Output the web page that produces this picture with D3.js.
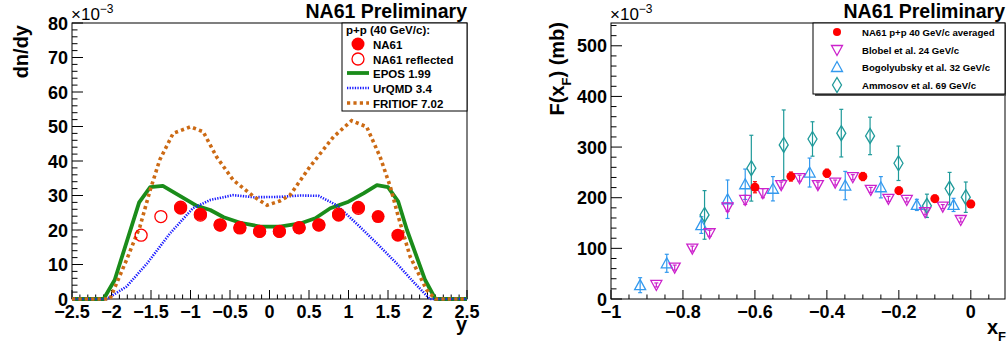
<!DOCTYPE html>
<html>
<head>
<meta charset="utf-8">
<script src="https://cdn.jsdelivr.net/npm/d3@7"></script>
<style>
html,body{margin:0;padding:0;background:#fff;}
svg{display:block;font-family:"Liberation Sans",Arial,Helvetica,sans-serif;}
</style>
</head>
<body>
<svg id="c" width="1007" height="345"></svg>
<script>
// ---------- LEFT PANEL DATA (dn/dy x 10^-3 vs y) ----------
const na61Y = [-1.125,-0.875,-0.625,-0.375,-0.125,0.125,0.375,0.625,0.875,1.125,1.375,1.625];
const na61V = [26.3,24.6,21.4,20.7,19.6,19.6,20.6,21.5,24.3,26.6,23.9,18.5];
const reflY = [-1.625,-1.375,-1.125,-0.875,-0.625,-0.375,-0.125,0.125,0.375,0.625,0.875,1.125];
const reflV = [18.5,23.9,26.6,24.3,21.5,20.6,19.6,19.6,20.7,21.4,24.6,26.3];
const eposY = [-2.5,-2.1,-1.96,-1.65,-1.51,-1.35,-0.92,-0.75,-0.58,-0.37,-0.12,0.13,0.39,0.58,0.77,1.0,1.19,1.36,1.5,1.63,1.74,1.97,2.1,2.5];
const eposV = [0,0,5.5,28.0,32.4,32.8,27.0,25.8,23.7,22.1,21.0,21.0,21.9,23.4,26.3,28.2,30.6,33.0,32.4,28.2,20.0,5.5,0,0];
const urqmdY = [-2.5,-2.06,-1.81,-1.55,-1.26,-0.97,-0.75,-0.46,-0.2,0.13,0.39,0.62,0.85,1.1,1.36,1.61,1.82,2.03,2.5];
const urqmdV = [0,0,3.6,10.3,19.0,26.3,28.7,30.1,29.5,29.6,30.0,29.9,27.2,21.9,16.1,10.3,5.0,0,0];
const fritY = [-2.5,-2.02,-1.81,-1.64,-1.51,-1.39,-1.22,-1.0,-0.84,-0.67,-0.46,-0.2,-0.03,0.13,0.26,0.51,0.81,1.04,1.23,1.4,1.53,1.63,1.78,1.99,2.1,2.5];
const fritV = [0,0,11.3,21.0,31.6,40.3,48.0,49.9,48.5,41.2,34.5,29.7,27.2,28.4,30.1,38.3,47.0,51.7,49.9,41.2,32.5,23.9,12.3,2.6,0,0];
const leftXTicks = [-2.5,-2,-1.5,-1,-0.5,0,0.5,1,1.5,2,2.5];
const leftYTicks = [0,10,20,30,40,50,60,70,80];
const leftLegend = ["NA61","NA61 reflected","EPOS 1.99","UrQMD 3.4","FRITIOF 7.02"];

// ---------- RIGHT PANEL DATA (F(xF) x 10^-3 mb vs xF) ----------
const na61AvgX = [-0.6,-0.5,-0.4,-0.3,-0.2,-0.1,0.0];
const na61AvgV = [220.7,241.8,248.4,241.8,214,198.2,187.7];
const na61AvgE = [11,9,8,8,7,7,7];
const blobelX = [-0.874,-0.823,-0.774,-0.726,-0.676,-0.627,-0.578,-0.527,-0.476,-0.425,-0.377,-0.328,-0.278,-0.229,-0.178,-0.127,-0.078,-0.028];
const blobelV = [27.7,62,99.5,129.8,181,195.6,209,225,238.5,225,229.9,240.5,215.4,197.6,195.6,171.3,182.4,156];
const blobelE = [4,5,5,6,8,9,9,6,6,6,5,5,5,5,4,5,4,4];
const bogolX = [-0.919,-0.845,-0.749,-0.676,-0.627,-0.55,-0.448,-0.349,-0.25,-0.15,-0.048];
const bogolV = [27.3,70.5,146,197,226.6,217.7,249.7,224,220.7,185.8,185.8];
const bogolE = [14.8,17.8,16.5,38,30,24,28.6,28,21,11,13];
const ammoX = [-0.74,-0.61,-0.52,-0.44,-0.36,-0.28,-0.201,-0.122,-0.059,-0.014];
const ammoV = [166,258.3,304.3,316,327.5,322,268,184,218,201];
const ammoE = [48,65,69,34,47,37,34,23,32,30];
const rightXTicks = [-1,-0.8,-0.6,-0.4,-0.2,0];
const rightYTicks = [0,100,200,300,400,500];
const rightLegend = ["NA61 p+p 40 GeV/c averaged","Blobel et al. 24 GeV/c","Bogolyubsky et al. 32 GeV/c","Ammosov et al. 69 GeV/c"];

// ---------- STYLE ----------
const C = {red:"#ff0000", green:"#1a8c1a", blue:"#1a1aff", orange:"#cc6a14",
           magenta:"#cc22cc", azure:"#3399ee", teal:"#1f9a9a"};
const svg = d3.select("#c");
const fmt = v => (v<0 ? "\u2212" : "") + Math.abs(v);

function isMajor(v, step){ const r = v/step; return Math.abs(r-Math.round(r))<1e-4; }
function frame(g, x, y, xMinor, xMajor, yMinor, yMajor){
  const [x0,x1] = x.range(), [y1,y0] = y.range();
  g.append("rect").attr("x",x0).attr("y",y0).attr("width",x1-x0).attr("height",y1-y0)
    .attr("fill","none").attr("stroke","#000").attr("stroke-width",1);
  const xd = x.domain(), yd = y.domain();
  const xm = d3.range(Math.ceil(xd[0]/xMinor-1e-6), Math.floor(xd[1]/xMinor+1e-6)+1).map(i=>+(i*xMinor).toFixed(4));
  g.selectAll(null).data(xm).enter().append("line")
    .attr("x1",d=>x(d)).attr("x2",d=>x(d)).attr("y1",y1)
    .attr("y2",d=>y1-(isMajor(d,xMajor)?9:4.5))
    .attr("stroke","#000").attr("stroke-width",1);
  const ym = d3.range(Math.ceil(yd[0]/yMinor-1e-6), Math.floor(yd[1]/yMinor+1e-6)+1).map(i=>+(i*yMinor).toFixed(4));
  g.selectAll(null).data(ym).enter().append("line")
    .attr("y1",d=>y(d)).attr("y2",d=>y(d)).attr("x1",x0)
    .attr("x2",d=>x0+(isMajor(d,yMajor)?11:5.5))
    .attr("stroke","#000").attr("stroke-width",1);
}

// ================= LEFT PANEL =================
const xL = d3.scaleLinear().domain([-2.5,2.5]).range([72,467]);
const yL = d3.scaleLinear().domain([0,80]).range([299,23]);
const gL = svg.append("g");
frame(gL, xL, yL, 0.1, 0.5, 2, 10);
gL.selectAll(null).data(leftXTicks).enter().append("text")
  .attr("x",d=>xL(d)).attr("y",318).attr("text-anchor","middle")
  .attr("font-size",18).attr("font-weight","bold").text(fmt);
gL.selectAll(null).data(leftYTicks).enter().append("text")
  .attr("x",68).attr("y",d=>yL(d)+6.5).attr("text-anchor","end")
  .attr("font-size",18).attr("font-weight","bold").text(d=>d);
gL.append("text").attr("transform","translate(28,25) rotate(-90)").attr("text-anchor","end")
  .attr("font-size",20).attr("font-weight","bold").text("dn/dy");
gL.append("text").attr("x",467).attr("y",331).attr("text-anchor","end")
  .attr("font-size",20).attr("font-weight","bold").text("y");
const eL = gL.append("text").attr("x",71).attr("y",20).attr("font-size",17);
eL.append("tspan").text("\u00d710");
eL.append("tspan").attr("dy",-7).attr("font-size",12).text("\u22123");
gL.append("text").attr("x",467).attr("y",18).attr("text-anchor","end")
  .attr("font-size",19.5).attr("font-weight","bold").text("NA61 Preliminary");

const lineL = d3.line().x(d=>xL(d[0])).y(d=>yL(d[1]));
gL.append("path").attr("d",lineL(d3.zip(eposY,eposV))).attr("fill","none")
  .attr("stroke",C.green).attr("stroke-width",3.8).attr("stroke-linejoin","round");
gL.append("path").attr("d",lineL(d3.zip(urqmdY,urqmdV))).attr("fill","none")
  .attr("stroke",C.blue).attr("stroke-width",2.6).attr("stroke-dasharray","1.3,1.3");
gL.append("path").attr("d",lineL(d3.zip(fritY,fritV))).attr("fill","none")
  .attr("stroke",C.orange).attr("stroke-width",3.6).attr("stroke-dasharray","3.2,3.2");
gL.selectAll(null).data(d3.zip(reflY,reflV)).enter().append("circle")
  .attr("cx",d=>xL(d[0])).attr("cy",d=>yL(d[1])).attr("r",6)
  .attr("fill","none").attr("stroke",C.red).attr("stroke-width",1.3);
gL.selectAll(null).data(d3.zip(na61Y,na61V)).enter().append("circle")
  .attr("cx",d=>xL(d[0])).attr("cy",d=>yL(d[1])).attr("r",6.5).attr("fill",C.red);

// left legend
const lg = gL.append("g");
lg.append("rect").attr("x",342).attr("y",23).attr("width",125).attr("height",88)
  .attr("fill","#fff").attr("stroke","#000").attr("stroke-width",1);
lg.append("text").attr("x",346).attr("y",34).attr("font-size",11.5).attr("font-weight","bold").text("p+p (40 GeV/c):");
const lgY = [44,59,73,88,103];
lg.selectAll(null).data(leftLegend).enter().append("text")
  .attr("x",373).attr("y",(d,i)=>lgY[i]+4.5).attr("font-size",11.5).attr("font-weight","bold").text(d=>d);
lg.append("circle").attr("cx",358).attr("cy",lgY[0]).attr("r",6.5).attr("fill",C.red);
lg.append("circle").attr("cx",358).attr("cy",lgY[1]).attr("r",6).attr("fill","none").attr("stroke",C.red).attr("stroke-width",1.3);
lg.append("line").attr("x1",347).attr("x2",369).attr("y1",lgY[2]).attr("y2",lgY[2]).attr("stroke",C.green).attr("stroke-width",3.8);
lg.append("line").attr("x1",347).attr("x2",369).attr("y1",lgY[3]).attr("y2",lgY[3]).attr("stroke",C.blue).attr("stroke-width",2.6).attr("stroke-dasharray","1.3,1.3");
lg.append("line").attr("x1",347).attr("x2",369).attr("y1",lgY[4]).attr("y2",lgY[4]).attr("stroke",C.orange).attr("stroke-width",3.6).attr("stroke-dasharray","3.2,3.2");

// ================= RIGHT PANEL =================
const xR = d3.scaleLinear().domain([-1,0.095]).range([611,1005]);
const yR = d3.scaleLinear().domain([0,545]).range([299,23]);
const gR = svg.append("g");
frame(gR, xR, yR, 0.05, 0.2, 20, 100);
gR.selectAll(null).data(rightXTicks).enter().append("text")
  .attr("x",d=>xR(d)).attr("y",318).attr("text-anchor","middle")
  .attr("font-size",18).attr("font-weight","bold").text(fmt);
gR.selectAll(null).data(rightYTicks).enter().append("text")
  .attr("x",607).attr("y",d=>yR(d)+6.5).attr("text-anchor","end")
  .attr("font-size",18).attr("font-weight","bold").text(d=>d);
const tR = gR.append("text").attr("transform","translate(564,22) rotate(-90)").attr("text-anchor","end")
  .attr("font-size",20).attr("font-weight","bold");
tR.append("tspan").text("F(x");
tR.append("tspan").attr("dy",7).attr("font-size",13).text("F");
tR.append("tspan").attr("dy",-7).text(") (mb)");
const xt = gR.append("text").attr("x",1006).attr("y",334).attr("text-anchor","end")
  .attr("font-size",20).attr("font-weight","bold");
xt.append("tspan").text("x");
xt.append("tspan").attr("dy",7).attr("font-size",13).text("F");
const eR = gR.append("text").attr("x",610).attr("y",20).attr("font-size",17);
eR.append("tspan").text("\u00d710");
eR.append("tspan").attr("dy",-7).attr("font-size",12).text("\u22123");
gR.append("text").attr("x",1005).attr("y",18).attr("text-anchor","end")
  .attr("font-size",19.5).attr("font-weight","bold").text("NA61 Preliminary");

const triUp = "M-5.5,4.5L5.5,4.5L0,-5.5Z";
const triDn = "M-5.5,-4.5L5.5,-4.5L0,5.5Z";
const diam = "M0,-7.5L4.5,0L0,7.5L-4.5,0Z";
function errs(g, X, V, E, color){
  const d = d3.zip(X,V,E);
  g.selectAll(null).data(d).enter().append("line")
    .attr("x1",p=>xR(p[0])).attr("x2",p=>xR(p[0]))
    .attr("y1",p=>yR(p[1]-p[2])).attr("y2",p=>yR(p[1]+p[2]))
    .attr("stroke",color).attr("stroke-width",1.2);
  [-1,1].forEach(s=>{
    g.selectAll(null).data(d).enter().append("line")
      .attr("x1",p=>xR(p[0])-2).attr("x2",p=>xR(p[0])+2)
      .attr("y1",p=>yR(p[1]+s*p[2])).attr("y2",p=>yR(p[1]+s*p[2]))
      .attr("stroke",color).attr("stroke-width",1.2);
  });
}
function markers(g, X, V, path, color){
  g.selectAll(null).data(d3.zip(X,V)).enter().append("path")
    .attr("d",path).attr("transform",p=>`translate(${xR(p[0])},${yR(p[1])})`)
    .attr("fill","none").attr("stroke",color).attr("stroke-width",1.3);
}
errs(gR, ammoX, ammoV, ammoE, C.teal);
errs(gR, bogolX, bogolV, bogolE, C.azure);
errs(gR, blobelX, blobelV, blobelE, C.magenta);
errs(gR, na61AvgX, na61AvgV, na61AvgE, C.red);
markers(gR, ammoX, ammoV, diam, C.teal);
markers(gR, bogolX, bogolV, triUp, C.azure);
markers(gR, blobelX, blobelV, triDn, C.magenta);
gR.selectAll(null).data(d3.zip(na61AvgX,na61AvgV)).enter().append("circle")
  .attr("cx",p=>xR(p[0])).attr("cy",p=>yR(p[1])).attr("r",4.5).attr("fill",C.red);

// right legend
const rg = gR.append("g");
rg.append("rect").attr("x",815).attr("y",25).attr("width",191).attr("height",71).attr("fill","#555");
rg.append("rect").attr("x",813).attr("y",23).attr("width",192).attr("height",71)
  .attr("fill","#fff").attr("stroke","#000").attr("stroke-width",1);
const rgY = [32,50,67,85];
rg.selectAll(null).data(rightLegend).enter().append("text")
  .attr("x",862).attr("y",(d,i)=>rgY[i]+3.5).attr("font-size",9.6).attr("font-weight","bold").text(d=>d);
rg.append("circle").attr("cx",837).attr("cy",rgY[0]).attr("r",4).attr("fill",C.red);
rg.append("path").attr("d",triDn).attr("transform",`translate(837,${rgY[1]})`).attr("fill","none").attr("stroke",C.magenta).attr("stroke-width",1.3);
rg.append("path").attr("d",triUp).attr("transform",`translate(837,${rgY[2]})`).attr("fill","none").attr("stroke",C.azure).attr("stroke-width",1.3);
rg.append("path").attr("d",diam).attr("transform",`translate(837,${rgY[3]})`).attr("fill","none").attr("stroke",C.teal).attr("stroke-width",1.3);
</script>
</body>
</html>
